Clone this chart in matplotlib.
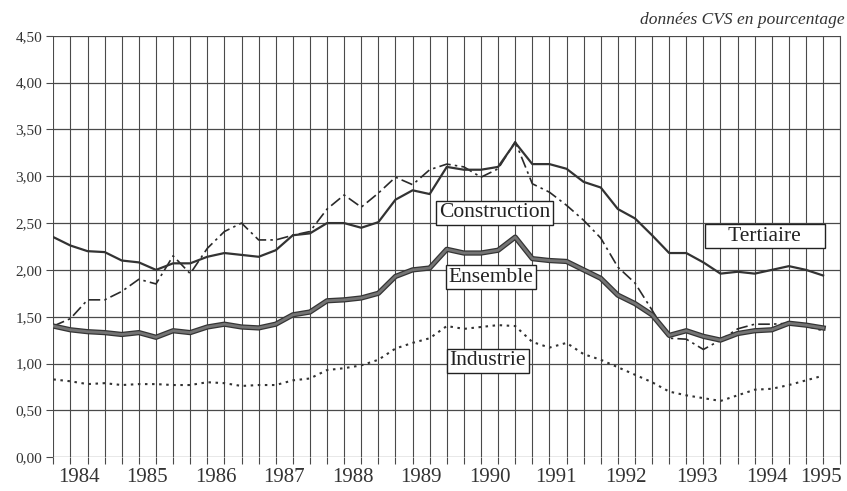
import numpy as np
import matplotlib.pyplot as plt
import matplotlib.patheffects as pe

# quarterly series, 1984 Q1 .. 1995 Q2 (46 points)
tertiaire = [2.35, 2.26, 2.20, 2.19, 2.10, 2.08, 2.00, 2.07, 2.07, 2.14,
             2.18, 2.16, 2.14, 2.21, 2.37, 2.39, 2.50, 2.50, 2.45, 2.51,
             2.75, 2.85, 2.81, 3.10, 3.07, 3.07, 3.10, 3.36, 3.13, 3.13,
             3.08, 2.94, 2.88, 2.65, 2.55, 2.37, 2.18, 2.18, 2.08, 1.96,
             1.98, 1.96, 2.00, 2.04, 2.00, 1.94]
construction = [1.40, 1.48, 1.68, 1.68, 1.77, 1.90, 1.85, 2.15, 1.96, 2.23,
                2.41, 2.50, 2.32, 2.32, 2.37, 2.41, 2.65, 2.80, 2.67, 2.82,
                2.99, 2.91, 3.07, 3.13, 3.10, 2.99, 3.08, 3.37, 2.92, 2.83,
                2.69, 2.53, 2.34, 2.03, 1.86, 1.57, 1.27, 1.26, 1.15, 1.25,
                1.37, 1.42, 1.42, 1.43, 1.40, 1.35]
ensemble = [1.40, 1.36, 1.34, 1.33, 1.31, 1.33, 1.28, 1.35, 1.33, 1.39,
            1.42, 1.39, 1.38, 1.42, 1.52, 1.55, 1.67, 1.68, 1.70, 1.75,
            1.93, 2.00, 2.02, 2.22, 2.18, 2.18, 2.21, 2.35, 2.12, 2.10,
            2.09, 2.00, 1.91, 1.73, 1.64, 1.52, 1.30, 1.35, 1.29, 1.25,
            1.32, 1.35, 1.36, 1.43, 1.41, 1.38]
industrie = [0.83, 0.81, 0.78, 0.79, 0.77, 0.78, 0.78, 0.77, 0.77, 0.80,
             0.79, 0.76, 0.77, 0.77, 0.82, 0.84, 0.93, 0.95, 0.98, 1.04,
             1.16, 1.22, 1.27, 1.40, 1.37, 1.39, 1.41, 1.40, 1.23, 1.17,
             1.22, 1.10, 1.04, 0.96, 0.88, 0.80, 0.70, 0.66, 0.63, 0.60,
             0.66, 0.72, 0.73, 0.77, 0.82, 0.87]

years = ['1984', '1985', '1986', '1987', '1988', '1989', '1990', '1991',
         '1992', '1993', '1994', '1995']
year_pos = [1.5, 5.5, 9.5, 13.5, 17.5, 21.5, 25.5, 29.4, 33.5, 37.6, 41.7, 44.9]
y_ticks = np.arange(0, 4.51, 0.5)

plt.rcParams['font.family'] = ['Liberation Serif', 'DejaVu Serif']

fig = plt.figure(figsize=(8.47, 4.91), dpi=100)
ax = fig.add_axes([0.063, 0.069, 0.929, 0.858])

x = np.arange(len(tertiaire))
grid_c = '#4a4a4a'

ax.plot(x, industrie, color='#333333', lw=1.5, ls=(0, (1.2, 2.2)), zorder=3)
ax.plot(x, construction, color='#2a2a2a', lw=1.2, ls=(0, (7, 2.5, 1.5, 2.5)), zorder=3)
ax.plot(x, tertiaire, color='#333333', lw=1.6, zorder=4)
ax.plot(x, ensemble, color='#747474', lw=2.0, zorder=5,
        path_effects=[pe.Stroke(linewidth=3.8, foreground='#353535'), pe.Normal()])

ax.set_xlim(0, 46)
ax.set_ylim(0, 4.5)
ax.set_xticks(np.arange(0, 47), minor=True)
ax.set_xticks(year_pos, years)
ax.tick_params(axis='x', which='major', length=0, pad=8, labelsize=15, labelcolor='#333333')
ax.tick_params(axis='x', which='minor', length=5, width=0.8, color=grid_c, direction='out')
ax.set_yticks(y_ticks, [f'{v:.2f}'.replace('.', ',') for v in y_ticks])
ax.tick_params(axis='y', length=5, width=0.8, color=grid_c, labelsize=11, labelcolor='#333333', pad=3)

for xv in range(47):
    ax.axvline(xv, color=grid_c, lw=0.8, zorder=1)
for yv in y_ticks:
    ax.axhline(yv, color=grid_c, lw=0.9, zorder=1)

for side in ['top', 'left', 'bottom']:
    ax.spines[side].set_visible(False)
ax.spines['right'].set_color(grid_c)
ax.spines['right'].set_linewidth(0.8)

box = dict(boxstyle='square,pad=0.12', fc='white', ec='#222222', lw=1.0)
for txt, xp, yp in [('Construction', 25.8, 2.61), ('Ensemble', 25.6, 1.92),
                    ('Industrie', 25.4, 1.03), ('    Tertiaire    ', 41.6, 2.36)]:
    ax.text(xp, yp, txt, ha='center', va='center', fontsize=15.5, color='#222222',
            bbox=box, zorder=6)

fig.text(0.997, 0.96, 'données CVS en pourcentage', ha='right', va='center',
         fontsize=12.5, style='italic', color='#333333')

fig.savefig('out.png', dpi=100)
